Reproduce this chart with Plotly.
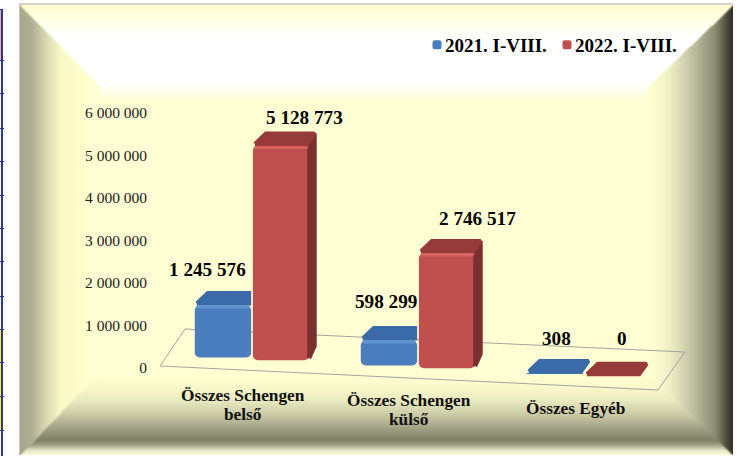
import base64, struct, zlib
import numpy as np
import plotly.graph_objects as go

# ---------- data ----------
categories = ["Összes Schengen<br>belső", "Összes Schengen<br>külső", "Összes Egyéb"]
series_names = ["2021. I-VIII.", "2022. I-VIII."]
values_2021 = [1245576, 598299, 308]
values_2022 = [5128773, 2746517, 0]
tick_values = [0, 1000000, 2000000, 3000000, 4000000, 5000000, 6000000]
tick_labels = ["0", "1 000 000", "2 000 000", "3 000 000", "4 000 000", "5 000 000", "6 000 000"]

W, H = 737, 456
FONT = "Liberation Serif"


# ---------- bevelled background panel, painted as a picture ----------
def hexc(s):
    return [int(s[i:i + 2], 16) for i in (0, 2, 4)]


def ramp(t, stops):
    xs = [s[0] for s in stops]
    cols = np.array([hexc(s[1]) for s in stops], float)
    return np.stack([np.interp(t, xs, cols[:, k]) for k in range(3)], axis=-1)


def panel():
    yy, xx = np.mgrid[0:H, 0:W].astype(float)
    L, R, T, B = 20.0, 733.0, 5.0, 455.0
    iL, iR, iT, iB = 100.0, 647.0, 87.0, 371.0
    tl = (xx - L) / (iL - L)
    tr = (R - xx) / (R - iR)
    tt = (yy - T) / (iT - T)
    tb = (B - yy) / (B - iB)
    left = ramp(xx, [(20, "A8A68A"), (32, "B2B094"), (45, "D8D6B0"), (60, "F8F7C5"), (78, "FDFDCB"), (100, "FFFFD3")])
    right = ramp(xx, [(647, "FFFFD3"), (655, "FBFBCD"), (670, "EEEEC5"), (685, "CFCFAE"), (700, "ADAD90"),
                      (715, "8A8A72"), (727, "484838"), (733, "2B2B20")])
    top = ramp(yy, [(5, "FDFDD0"), (20, "FFFFE4"), (36, "FFFFFF"), (84, "FFFFFF"), (100, "FFFFD3"), (456, "FFFFD3")])
    bottom = ramp(yy, [(371, "FFFFD3"), (385, "FAFACB"), (400, "EAEAC0"), (415, "C8C8A5"), (430, "9A9A80"),
                       (440, "7F7F68"), (445, "A5A58A"), (450, "E6E6C8"), (455, "FBFBE0")])
    img = top.copy()
    stack = np.stack([tl, tr, tt, tb])
    which = stack.argmin(axis=0)
    inside = stack.min(axis=0) >= 1
    img[(which == 0) & ~inside] = left[(which == 0) & ~inside]
    img[(which == 1) & ~inside] = right[(which == 1) & ~inside]
    img[(which == 3) & ~inside] = bottom[(which == 3) & ~inside]
    # soften, as the source picture is soft
    pad = np.pad(img, ((1, 1), (1, 1), (0, 0)), mode="edge")
    img = sum(pad[1 + a:H + 1 + a, 1 + b:W + 1 + b] for a in (-1, 0, 1) for b in (-1, 0, 1)) / 9
    out = np.full((H, W, 3), 255.0)
    mask = (xx >= L) & (xx < R) & (yy >= T) & (yy < B)
    out[mask] = img[mask]
    out[3:5, 19:733] = hexc("D4D4CC")
    out[3:455, 19:20] = hexc("C8C8BE")
    # corner of the neighbouring table at the page edge
    out[10:60, 0:1] = hexc("F4B183")
    out[329:430, 0:1] = hexc("FFF200")
    out[9:456, 1:3] = hexc("2F349E")
    out[9:10, 0:3] = hexc("2F349E")
    for y in (60, 93, 128, 161, 195, 228, 261, 296, 329, 362, 396, 430):
        out[y:y + 1, 0:4] = hexc("2F349E")
    return out.round().astype(np.uint8)


def png_uri(a):
    raw = b"".join(b"\x00" + row.tobytes() for row in a)

    def chunk(t, d):
        return struct.pack(">I", len(d)) + t + d + struct.pack(">I", zlib.crc32(t + d) & 0xffffffff)

    data = (b"\x89PNG\r\n\x1a\n" + chunk(b"IHDR", struct.pack(">IIBBBBB", a.shape[1], a.shape[0], 8, 2, 0, 0, 0))
            + chunk(b"IDAT", zlib.compress(raw, 9)) + chunk(b"IEND", b""))
    return "data:image/png;base64," + base64.b64encode(data).decode()


# ---------- scales ----------
GROUP_PX = 166.0       # distance between groups
X0_PX = 252.0          # first group centre
BAR_SCALE = 41.8 / 1e6  # px per unit for the bars
BAR_ZERO_PX = 357.5
AXIS_SCALE = 42.5 / 1e6
AXIS_ZERO_PX = 368.0
TILT = 0.048           # the floor falls towards the right
SLOT = 0.35
BAR_W = SLOT * 0.97
DEPTH_Y = 14.5 / BAR_SCALE
DX_L, DX_R = 11 / GROUP_PX, 7.5 / GROUP_PX
INSET_X, INSET_Y = 2 / GROUP_PX, 2 / BAR_SCALE


def fmt(v):
    return f"{v:,}".replace(",", " ")


def base_for(xc):
    return -TILT * (X0_PX + xc * GROUP_PX - 223) / BAR_SCALE


xpos = list(range(len(categories)))
fig = go.Figure()

COL = [
    dict(front="#4A7DBD", top="#3A6BA8", side="#2F5A8F", hi="#5F93D2"),
    dict(front="#C0504D", top="#963A3A", side="#7C2F30", hi="#D8625E"),
]
vals = [values_2021, values_2022]
offs = [-SLOT / 2, SLOT / 2]

for s in range(2):
    centers = [i + offs[s] for i in xpos]
    bases = [base_for(c) for c in centers]
    fig.add_trace(go.Bar(
        x=xpos, y=vals[s], base=bases, name=series_names[s],
        marker=dict(color=COL[s]["front"], line=dict(width=0), cornerradius=5),
        legend="legend" if s == 0 else "legend2", hoverinfo="skip",
    ))

# solid faces of the columns, derived from the values
for s in range(2):
    for i in xpos:
        c = i + offs[s]
        b = base_for(c)
        top = b + vals[s][i]
        xl, xr = c - BAR_W / 2, c + BAR_W / 2
        other = vals[1 - s][i]
        hidden = s == 0 and other > vals[s][i]
        dxr = 0 if hidden else DX_R
        if not hidden and vals[s][i] > 10000:
            fig.add_trace(go.Scatter(
                x=[xr, xr + dxr - INSET_X, xr + dxr - INSET_X, xr, xr],
                y=[b + INSET_Y, b + DEPTH_Y, top + DEPTH_Y - INSET_Y, top, b + INSET_Y],
                mode="lines", fill="toself", fillcolor=COL[s]["side"], line=dict(color=COL[s]["side"], width=4),
                showlegend=False, hoverinfo="skip",
            ))
        fig.add_trace(go.Scatter(
            x=[xl + INSET_X, xr - INSET_X, xr + dxr - INSET_X, xl + DX_L + INSET_X, xl + INSET_X],
            y=[top + INSET_Y, top + INSET_Y, top + DEPTH_Y - INSET_Y, top + DEPTH_Y - INSET_Y, top + INSET_Y],
            mode="lines", fill="toself", fillcolor=COL[s]["top"], line=dict(color=COL[s]["top"], width=4),
            showlegend=False, hoverinfo="skip",
        ))
        if vals[s][i] > 10000:
            fig.add_trace(go.Scatter(
                x=[xl + 0.01, xr - 0.01], y=[top - 1.5 / BAR_SCALE] * 2,
                mode="lines", line=dict(color=COL[s]["hi"], width=3),
                showlegend=False, hoverinfo="skip",
            ))

# value-axis labels live on their own scale
fig.add_trace(go.Scatter(x=[xpos[0]] * len(tick_values), y=tick_values, yaxis="y2", mode="markers",
                         marker=dict(opacity=0, size=1), showlegend=False, hoverinfo="skip"))

# data labels
label_shift = [[(-15, 21), (-3, 24), (2, 20)], [(23, 14), (30, 20), (9, 23)]]
ann = []
for s in range(2):
    for i in xpos:
        c = i + offs[s]
        ann.append(dict(
            x=c, y=base_for(c) + vals[s][i] + DEPTH_Y, xref="x", yref="y",
            text=f"<b>{fmt(vals[s][i])}</b>", showarrow=False, xanchor="center", yanchor="middle",
            xshift=label_shift[s][i][0], yshift=label_shift[s][i][1],
            font=dict(family=FONT, size=19.2, color="#000000"),
        ))
# category labels follow the tilted floor; each line is placed so the leading stays tight
cat_mid = [404.5, 409.5, 408]
LEADING = 19
for i in xpos:
    lines = categories[i].split("<br>")
    for k, line in enumerate(lines):
        py = cat_mid[i] + (k - (len(lines) - 1) / 2) * LEADING
        ann.append(dict(
            x=i, y=1 - py / H, xref="x", yref="paper",
            text=f"<b>{line}</b>", showarrow=False,
            xanchor="center", yanchor="middle", xshift=-9, align="center",
            font=dict(family=FONT, size=17.3, color="#111111"),
        ))

# floor outline
floor = [(160, 366), (185, 329), (685, 352), (658, 390), (160, 366)]
path = "M " + " L ".join(f"{x / W:.4f},{1 - y / H:.4f}" for x, y in floor)
shapes = [dict(type="path", path=path, xref="paper", yref="paper", layer="below",
               line=dict(color="#A4A4A0", width=1))]

fig.update_layout(
    width=W, height=H, margin=dict(l=0, r=0, t=0, b=0), autosize=False,
    paper_bgcolor="white", plot_bgcolor="rgba(0,0,0,0)",
    barmode="group", bargap=0.30, bargroupgap=0.03,
    images=[dict(source=png_uri(panel()), xref="paper", yref="paper", x=0, y=1, sizex=1, sizey=1,
                 sizing="stretch", xanchor="left", yanchor="top", layer="below")],
    shapes=shapes, annotations=ann,
    xaxis=dict(range=[-X0_PX / GROUP_PX, (W - X0_PX) / GROUP_PX], domain=[0, 1], visible=False, fixedrange=True),
    yaxis=dict(range=[(BAR_ZERO_PX - H) / BAR_SCALE, BAR_ZERO_PX / BAR_SCALE], domain=[0, 1],
               visible=False, fixedrange=True),
    yaxis2=dict(range=[(AXIS_ZERO_PX - H) / AXIS_SCALE, AXIS_ZERO_PX / AXIS_SCALE], overlaying="y",
                anchor="free", position=147 / W, side="left", tickmode="array",
                tickvals=tick_values, ticktext=tick_labels, ticks="", showgrid=False, zeroline=False,
                showline=False, fixedrange=True, tickfont=dict(family=FONT, size=15.5, color="#222222")),
    legend=dict(orientation="h", x=405 / W, y=1 - 45 / H, xanchor="left", yanchor="middle",
                bgcolor="rgba(0,0,0,0)", font=dict(family=FONT, size=19, color="#000000", weight="bold")),
    legend2=dict(orientation="h", x=535 / W, y=1 - 45 / H, xanchor="left", yanchor="middle",
                 bgcolor="rgba(0,0,0,0)", font=dict(family=FONT, size=19, color="#000000", weight="bold")),
    showlegend=True,
)
# page reset; legend swatches sit close to their text, and smaller, as in the source
post = """
document.body.style.margin='0';
document.documentElement.style.overflow='hidden';
(function(){
  var gd=document.getElementById('{plot_id}');
  function fix(){
    gd.querySelectorAll('g.legend .layers, g.legend2 .layers').forEach(function(n){
      n.setAttribute('transform','translate(17,0) scale(0.75)');
    });
  }
  fix();
  if(gd.on){gd.on('plotly_afterplot',fix);}
  setTimeout(fix,50);setTimeout(fix,300);
})();
"""
fig.write_html("out.html", config={"displayModeBar": False}, post_script=post)
